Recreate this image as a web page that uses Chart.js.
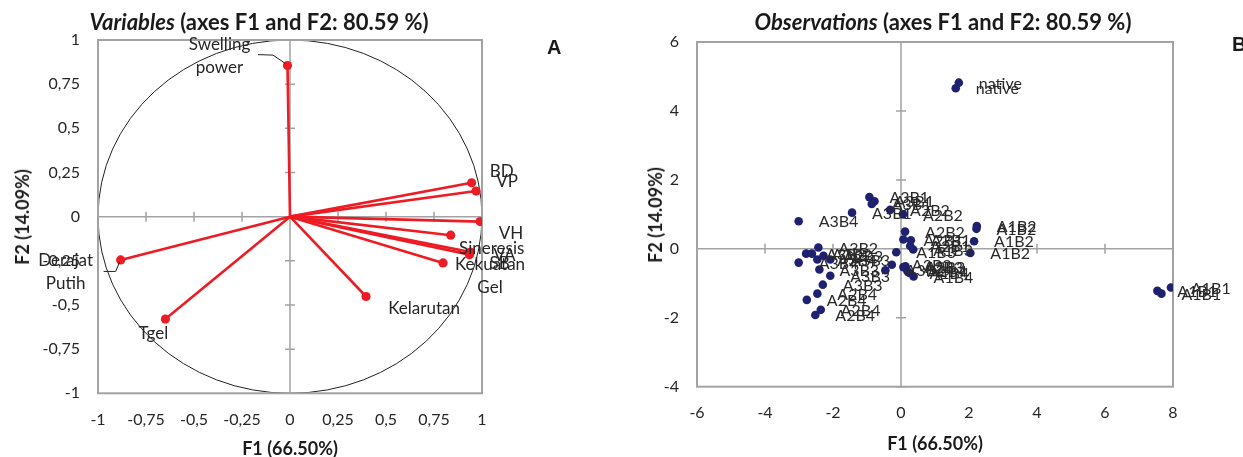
<!DOCTYPE html>
<html>
<head>
<meta charset="utf-8">
<script src="https://cdn.jsdelivr.net/npm/chart.js@4"></script>
<style>
  body { margin: 0; background: #fff; width: 1243px; height: 457px; overflow: hidden; position: relative;
         font-family: Lato, sans-serif; color: #1a1a1a; }
  .box { position: absolute; top: 0; height: 457px; }
  .ttl { position: absolute; font-weight: bold; font-size: 22px; line-height: 1; white-space: nowrap;
         transform: translate(-50%, -50%); }
  .axt { position: absolute; font-weight: bold; font-size: 18px; line-height: 1; white-space: nowrap;
         transform: translate(-50%, -50%); }
  .rot { transform: translate(-50%, -50%) rotate(-90deg); }
  .tag { position: absolute; font-family: "Liberation Sans", Arial, sans-serif; font-weight: bold;
         font-size: 20px; line-height: 1; }
</style>
</head>
<body>
<div class="box" style="left:0;width:580px"><canvas id="chartVar"></canvas></div>
<div class="box" style="left:600px;width:643px"><canvas id="chartObs"></canvas></div>

<div class="ttl" style="left:259px;top:22px"><i>Variables</i> (axes F1 and F2: 80.59 %)</div>
<div class="ttl" style="left:943px;top:22px"><i>Observations</i> (axes F1 and F2: 80.59 %)</div>
<div class="axt" style="left:290px;top:448px">F1 (66.50%)</div>
<div class="axt" style="left:935px;top:443px">F1 (66.50%)</div>
<div class="axt rot" style="left:22px;top:217px">F2 (14.09%)</div>
<div class="axt rot" style="left:655px;top:215px">F2 (14.09%)</div>
<div class="tag" style="left:547px;top:37px">A</div>
<div class="tag" style="left:1232px;top:34px">B</div>

<script>
// ---- variables (correlation circle) ----
const varNames = ["Swelling power", "BD", "VP", "VH", "Sineresis", "VA", "SB",
                  "Kekuatan Gel", "Kelarutan", "Tgel", "Derajat Putih"];
const varF1 = [-0.013, 0.946, 0.969, 0.990, 0.837, 0.940, 0.935, 0.797, 0.396, -0.649, -0.882];
const varF2 = [0.855, 0.192, 0.145, -0.028, -0.105, -0.200, -0.215, -0.262, -0.452, -0.580, -0.245];
const varTicks = [-1, -0.75, -0.5, -0.25, 0, 0.25, 0.5, 0.75, 1];

// ---- observations ----
const obsNames = [
  "native", "native",
  "A1B1", "A1B1", "A1B1",
  "A1B2", "A1B2", "A1B2", "A1B2",
  "A3B1", "A3B1", "A3B1", "A3B1",
  "A2B2", "A2B2", "A2B2",
  "A3B4",
  "A2B1", "A2B1", "A2B1",
  "A1B3", "A1B3",
  "A2B3", "A2B3", "A2B4", "A1B4", "A1B4",
  "A3B2", "A3B2", "A3B2", "A3B2", "A3B2",
  "A3B4", "A3B4", "A2B3",
  "A3B3", "A3B3", "A3B3", "A3B3",
  "A2B4", "A2B4", "A2B4", "A2B4"
];
const obsF1 = [
  1.70, 1.61,
  7.54, 7.66, 7.94,
  2.23, 2.22, 2.15, 2.04,
  -0.93, -0.78, -0.86, -1.44,
  -0.32, 0.06, 0.12,
  -3.01,
  0.07, 0.29, 0.27,
  0.36, -0.14,
  0.07, 0.13, 0.19, 0.25, 0.37,
  -0.27, -0.46, -2.43, -2.79, -2.62,
  -3.01, -2.46, -2.28,
  -2.08, -2.40, -2.08, -2.30,
  -2.46, -2.77, -2.36, -2.52
];
const obsF2 = [
  4.82, 4.66,
  -1.22, -1.30, -1.12,
  0.66, 0.58, 0.22, -0.12,
  1.50, 1.38, 1.30, 1.05,
  1.13, 1.00, 0.50,
  0.80,
  0.27, 0.25, 0.08,
  -0.02, -0.10,
  -0.53, -0.51, -0.65, -0.70, -0.80,
  -0.46, -0.62, 0.04, -0.14, -0.14,
  -0.40, -0.31, -0.20,
  -0.31, -0.60, -0.78, -1.04,
  -1.30, -1.48, -1.77, -1.92
];
const obsXTicks = [-6, -4, -2, 0, 2, 4, 6, 8];
const obsYTicks = [-4, -2, 0, 2, 4, 6];

// ---- look ----
const RED = "#ed1c24";
const NAVY = "#1e2070";
const GRAY = "#a3a3a3";
const TEXT = "#262626";
const tickFont = { family: "Lato", size: 16 };

// where each variable name sits relative to its point (px, centre of first line)
const varLabelShift = {
  "Swelling power": [-68, -21], "BD": [30, -11], "VP": [31, -10], "VH": [31, 12],
  "Sineresis": [41, 13], "VA": [34, 4], "SB": [30, 9], "Kekuatan Gel": [47, 2],
  "Kelarutan": [58, 12], "Tgel": [-12, 14], "Derajat Putih": [-55, 1]
};
const varLeaders = {
  "Swelling power": [[-29.5, -11], [-14.5, -10.5], [-2, -2]],
  "Derajat Putih": [[-17, 11.5], [-5, 11.5], [-1, 2]]
};

Chart.defaults.font.family = "Lato";
Chart.defaults.color = TEXT;

/* ---------------- PLUGINS ---------------- */
const framePlugin = {
  id: "frame",
  beforeDatasetsDraw(chart, args, opts) {
    const { ctx, chartArea: a, scales: { x, y } } = chart;
    const x0 = x.getPixelForValue(0), y0 = y.getPixelForValue(0);
    ctx.save();
    if (opts.circle) {
      ctx.strokeStyle = "#222";
      ctx.lineWidth = 1;
      ctx.beginPath();
      ctx.ellipse(x0, y0, x.getPixelForValue(1) - x0, y0 - y.getPixelForValue(1), 0, 0, Math.PI * 2);
      ctx.stroke();
    }
    ctx.strokeStyle = GRAY;
    ctx.lineWidth = 1.5;
    ctx.beginPath();
    ctx.moveTo(a.left, y0); ctx.lineTo(a.right, y0);
    ctx.moveTo(x0, a.top); ctx.lineTo(x0, a.bottom);
    x.ticks.forEach(t => {
      const p = x.getPixelForValue(t.value);
      ctx.moveTo(p, y0 - 5); ctx.lineTo(p, y0 + 5);
    });
    y.ticks.forEach(t => {
      const p = y.getPixelForValue(t.value);
      ctx.moveTo(x0 - 5, p); ctx.lineTo(x0 + 5, p);
    });
    ctx.stroke();
    ctx.lineWidth = 2;
    ctx.strokeRect(a.left, a.top, a.right - a.left, a.bottom - a.top);
    ctx.restore();
  }
};

const varLabelPlugin = {
  id: "varLabels",
  afterDatasetsDraw(chart) {
    const { ctx, scales: { x, y } } = chart;
    ctx.save();
    ctx.font = "17px Lato";
    ctx.fillStyle = TEXT;
    ctx.textAlign = "center";
    ctx.textBaseline = "middle";
    varNames.forEach((n, i) => {
      const px = x.getPixelForValue(varF1[i]), py = y.getPixelForValue(varF2[i]);
      const [dx, dy] = varLabelShift[n];
      n.split(" ").forEach((line, k) => ctx.fillText(line, px + dx, py + dy + k * 22.5));
      const lead = varLeaders[n];
      if (lead) {
        ctx.strokeStyle = "#222";
        ctx.lineWidth = 1;
        ctx.beginPath();
        lead.forEach(([lx, ly], k) => k ? ctx.lineTo(px + lx, py + ly) : ctx.moveTo(px + lx, py + ly));
        ctx.stroke();
      }
    });
    ctx.restore();
  }
};

const obsLabelPlugin = {
  id: "obsLabels",
  afterDatasetsDraw(chart) {
    const { ctx, scales: { x, y } } = chart;
    ctx.save();
    ctx.font = "16px Lato";
    ctx.fillStyle = "#2a2a2a";
    ctx.textAlign = "left";
    ctx.textBaseline = "middle";
    obsNames.forEach((n, i) => {
      ctx.fillText(n, x.getPixelForValue(obsF1[i]) + 20, y.getPixelForValue(obsF2[i]) + 1);
    });
    ctx.restore();
  }
};

/* ---------------- CHARTS ---------------- */
const fmt = v => String(v).replace(".", ",");

function edgeScale(min, max, ticks, size, isX, pad) {
  return {
    type: "linear", min, max,
    afterBuildTicks: s => { s.ticks = ticks.map(v => ({ value: v })); },
    afterFit: s => { if (isX) s.height = size; else s.width = size; },
    ticks: { font: tickFont, color: TEXT, padding: pad, callback: v => fmt(v), maxRotation: 0, autoSkip: false },
    grid: { display: false, drawTicks: false },
    border: { display: false }
  };
}

new Chart(chartVar, {
  type: "scatter",
  data: {
    datasets: varNames.map((n, i) => ({
      label: n,
      data: [{ x: 0, y: 0 }, { x: varF1[i], y: varF2[i] }],
      showLine: true,
      borderColor: RED,
      backgroundColor: RED,
      borderWidth: 2.6,
      pointRadius: [0, 4.6],
      pointBorderWidth: 0
    }))
  },
  options: {
    animation: false,
    responsive: true,
    maintainAspectRatio: false,
    events: [],
    layout: { padding: { left: 0, right: 98, top: 40, bottom: 0 } },
    plugins: { legend: { display: false }, tooltip: { enabled: false }, frame: { circle: true } },
    scales: {
      x: edgeScale(-1, 1, varTicks, 63.7, true, 17),
      y: edgeScale(-1, 1, varTicks, 98, false, 18)
    }
  },
  plugins: [framePlugin, varLabelPlugin]
});

new Chart(chartObs, {
  type: "scatter",
  data: {
    datasets: [{
      label: "Observations",
      data: obsF1.map((v, i) => ({ x: v, y: obsF2[i] })),
      backgroundColor: NAVY,
      borderColor: NAVY,
      pointRadius: 4.3,
      pointBorderWidth: 0
    }]
  },
  options: {
    animation: false,
    responsive: true,
    maintainAspectRatio: false,
    events: [],
    layout: { padding: { left: 0, right: 70, top: 42, bottom: 0 } },
    plugins: { legend: { display: false }, tooltip: { enabled: false }, frame: { circle: false } },
    scales: {
      x: edgeScale(-6, 8, obsXTicks, 70.3, true, 17),
      y: edgeScale(-4, 6, obsYTicks, 97, false, 18)
    }
  },
  plugins: [framePlugin, obsLabelPlugin]
});
</script>
</body>
</html>
